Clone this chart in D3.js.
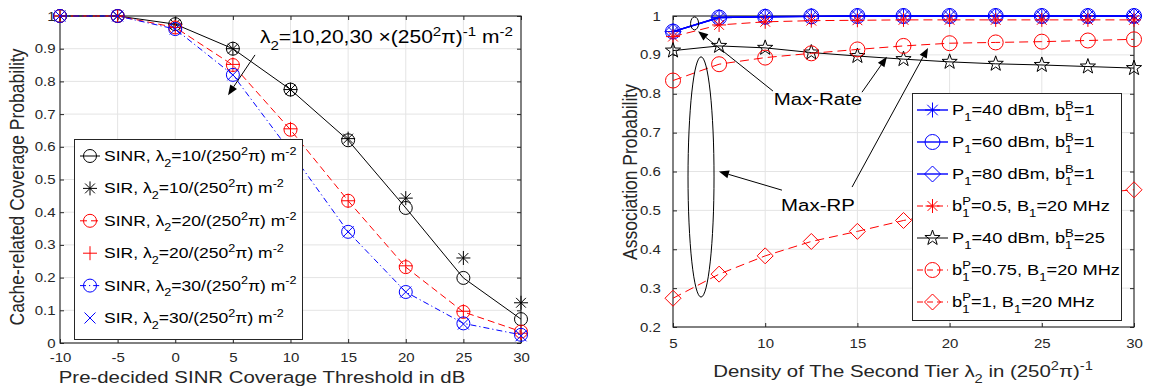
<!DOCTYPE html>
<html><head><meta charset="utf-8">
<script src="https://cdn.jsdelivr.net/npm/d3@7"></script>
<style>body{margin:0;background:#fff} svg{display:block}</style>
</head><body><svg id="c" width="1150" height="387"></svg>
<script>
// ---------------- data: left chart ----------------
const thresholds = [-10, -5, 0, 5, 10, 15, 20, 25, 30];
const sinr10 = [1, 1, 0.975, 0.9, 0.775, 0.62, 0.413, 0.199, 0.073];
const sir10  = [1, 1, 0.975, 0.9, 0.775, 0.625, 0.443, 0.26, 0.123];
const sinr20 = [1, 1, 0.965, 0.85, 0.652, 0.435, 0.232, 0.095, 0.035];
const sir20  = [1, 1, 0.965, 0.852, 0.655, 0.435, 0.236, 0.097, 0.03];
const sinr30 = [1, 1, 0.96, 0.82, 0.585, 0.34, 0.156, 0.06, 0.025];
const sir30  = [1, 1, 0.96, 0.82, 0.585, 0.34, 0.156, 0.058, 0.022];
const leftXTicks = [-10, -5, 0, 5, 10, 15, 20, 25, 30];
const leftXTickLabels = ["-10", "-5", "0", "5", "10", "15", "20", "25", "30"];
const leftYTicks = [0, 0.1, 0.2, 0.3, 0.4, 0.5, 0.6, 0.7, 0.8, 0.9, 1];
const leftYTickLabels = ["0", "0.1", "0.2", "0.3", "0.4", "0.5", "0.6", "0.7", "0.8", "0.9", "1"];
const leftLegend = [
  "SINR, λ_{2}=10/(250^{2}π) m^{-2}", "SIR, λ_{2}=10/(250^{2}π) m^{-2}",
  "SINR, λ_{2}=20/(250^{2}π) m^{-2}", "SIR, λ_{2}=20/(250^{2}π) m^{-2}",
  "SINR, λ_{2}=30/(250^{2}π) m^{-2}", "SIR, λ_{2}=30/(250^{2}π) m^{-2}"];

// ---------------- data: right chart ----------------
const densities = [5, 7.5, 10, 12.5, 15, 17.5, 20, 22.5, 25, 27.5, 30];
const p40b1  = [0.96, 0.996, 0.998, 0.999, 1, 1, 1, 1, 1, 1, 1];
const p60b1  = [0.96, 0.996, 0.998, 0.999, 1, 1, 1, 1, 1, 1, 1];
const p80b1  = [0.96, 0.996, 0.998, 0.999, 1, 1, 1, 1, 1, 1, 1];
const bp05   = [0.947, 0.977, 0.985, 0.988, 0.989, 0.99, 0.99, 0.99, 0.99, 0.99, 0.99];
const p40b25 = [0.911, 0.923, 0.918, 0.906, 0.897, 0.889, 0.882, 0.877, 0.874, 0.87, 0.866];
const bp075  = [0.834, 0.876, 0.893, 0.904, 0.914, 0.923, 0.93, 0.932, 0.934, 0.937, 0.94];
const bp1    = [0.274, 0.336, 0.383, 0.42, 0.446, 0.474, 0.495, 0.515, 0.531, 0.543, 0.553];
const rightXTicks = [5, 10, 15, 20, 25, 30];
const rightXTickLabels = ["5", "10", "15", "20", "25", "30"];
const rightYTicks = [0.2, 0.3, 0.4, 0.5, 0.6, 0.7, 0.8, 0.9, 1];
const rightYTickLabels = ["0.2", "0.3", "0.4", "0.5", "0.6", "0.7", "0.8", "0.9", "1"];
const rightLegend = [
  "P_{1}=40 dBm, b^{B}_{1}=1", "P_{1}=60 dBm, b^{B}_{1}=1", "P_{1}=80 dBm, b^{B}_{1}=1",
  "b^{P}_{1}=0.5, B_{1}=20 MHz", "P_{1}=40 dBm, b^{B}_{1}=25",
  "b^{P}_{1}=0.75, B_{1}=20 MHz", "b^{P}_{1}=1, B_{1}=20 MHz"];

// ---------------- helpers ----------------
const FONT = '"Liberation Sans", Arial, Helvetica, sans-serif';
const SX = 1.2;
const AX = '#262626';
const svg = d3.select('#c');
const mctx = document.createElement('canvas').getContext('2d');
function tw(s, size) { mctx.font = size + 'px "Liberation Sans"'; return mctx.measureText(s).width; }

function richText(parent, x, y, str, size, opts = {}) {
  const g = parent.append('g').attr('transform',
    `translate(${x},${y}) scale(${SX},1)` + (opts.rotate ? ` rotate(${opts.rotate})` : ''));
  const t = g.append('text').attr('font-family', FONT).attr('font-size', size)
    .attr('fill', opts.fill || '#000').attr('text-anchor', opts.anchor || 'start');
  const re = /\^\{([^}]*)\}_\{([^}]*)\}|\^\{([^}]*)\}|_\{([^}]*)\}|([^_^]+)/g;
  const ss = size * 0.72, up = size * 0.42, down = size * 0.38;
  let off = 0, pdx = 0, m;
  while ((m = re.exec(str))) {
    if (m[1] !== undefined) {
      const w1 = tw(m[1], ss), w2 = tw(m[2], ss);
      t.append('tspan').attr('font-size', ss).attr('dx', pdx).attr('dy', -up - off).text(m[1]);
      t.append('tspan').attr('font-size', ss).attr('dx', -w1).attr('dy', up + down).text(m[2]);
      off = down; pdx = Math.max(0, w1 - w2);
    } else if (m[3] !== undefined) {
      t.append('tspan').attr('font-size', ss).attr('dx', pdx).attr('dy', -up - off).text(m[3]);
      off = -up; pdx = 0;
    } else if (m[4] !== undefined) {
      t.append('tspan').attr('font-size', ss).attr('dx', pdx).attr('dy', down - off).text(m[4]);
      off = down; pdx = 0;
    } else {
      t.append('tspan').attr('dx', pdx).attr('dy', -off).text(m[5]);
      off = 0; pdx = 0;
    }
  }
  return g;
}

const markerPath = {
  circle: r => `M${r},0A${r},${r} 0 1,1 ${-r},0A${r},${r} 0 1,1 ${r},0Z`,
  plus: r => `M${-r},0H${r}M0,${-r}V${r}`,
  x: r => `M${-r},${-r}L${r},${r}M${-r},${r}L${r},${-r}`,
  asterisk: r => { const d = r * 0.7; return `M${-r},0H${r}M0,${-r}V${r}M${-d},${-d}L${d},${d}M${-d},${d}L${d},${-d}`; },
  diamond: r => `M0,${-r}L${r},0L0,${r}L${-r},0Z`,
  pentagram: r => {
    const pts = [];
    for (let i = 0; i < 10; i++) {
      const a = -Math.PI / 2 + i * Math.PI / 5, rr = i % 2 ? r * 0.4 : r;
      pts.push([rr * Math.cos(a), rr * Math.sin(a)]);
    }
    return 'M' + pts.map(p => p.join(',')).join('L') + 'Z';
  }
};

function drawMarkers(g, xs, ys, xScale, yScale, type, r, color) {
  g.selectAll(null).data(xs.map((x, i) => [x, ys[i]])).enter().append('path')
    .attr('transform', d => `translate(${xScale(d[0])},${yScale(d[1])})`)
    .attr('d', markerPath[type](r)).attr('fill', 'none').attr('stroke', color).attr('stroke-width', 1);
}
function drawLine(g, xs, ys, xScale, yScale, color, dash, width) {
  g.append('path').datum(xs.map((x, i) => [x, ys[i]]))
    .attr('d', d3.line().x(d => xScale(d[0])).y(d => yScale(d[1])))
    .attr('fill', 'none').attr('stroke', color).attr('stroke-width', width || 1)
    .attr('stroke-dasharray', dash || null);
}
function arrow(g, x1, y1, x2, y2) {
  const ang = Math.atan2(y2 - y1, x2 - x1), L = 10, W = 4;
  const bx = x2 - L * Math.cos(ang), by = y2 - L * Math.sin(ang);
  g.append('line').attr('x1', x1).attr('y1', y1).attr('x2', bx).attr('y2', by)
    .attr('stroke', '#000').attr('stroke-width', 1);
  const px = -Math.sin(ang) * W, py = Math.cos(ang) * W;
  g.append('path').attr('d', `M${x2},${y2}L${bx + px},${by + py}L${bx - px},${by - py}Z`).attr('fill', '#000');
}

function frame(xScale, yScale, xT, xTL, yT, yTL, xPad, yPad) {
  const [x0, x1] = xScale.range(), [y0, y1] = yScale.range();
  const g = svg.append('g');
  g.selectAll(null).data(xT).enter().append('line')
    .attr('x1', d => xScale(d)).attr('x2', d => xScale(d)).attr('y1', y0).attr('y2', y1)
    .attr('stroke', '#e4e4e4').attr('stroke-width', 1);
  g.selectAll(null).data(yT).enter().append('line')
    .attr('y1', d => yScale(d)).attr('y2', d => yScale(d)).attr('x1', x0).attr('x2', x1)
    .attr('stroke', '#e4e4e4').attr('stroke-width', 1);
  const styleAxis = (sel) => {
    sel.select('.domain').remove();
    sel.selectAll('.tick line').attr('stroke', AX);
    sel.selectAll('.tick text').attr('font-family', FONT).attr('font-size', 12.5).attr('fill', AX)
      .attr('transform', `scale(${SX},1)`);
  };
  g.append('g').attr('transform', `translate(0,${y0})`)
    .call(d3.axisBottom(xScale).tickValues(xT).tickSizeInner(-4).tickSizeOuter(0).tickPadding(xPad)
      .tickFormat((d, i) => xTL[i])).call(styleAxis);
  g.append('g').attr('transform', `translate(0,${y1})`)
    .call(d3.axisTop(xScale).tickValues(xT).tickSizeInner(-4).tickSizeOuter(0).tickFormat('')).call(styleAxis);
  g.append('g').attr('transform', `translate(${x0},0)`)
    .call(d3.axisLeft(yScale).tickValues(yT).tickSizeInner(-4).tickSizeOuter(0).tickPadding(yPad)
      .tickFormat((d, i) => yTL[i])).call(styleAxis);
  g.append('g').attr('transform', `translate(${x1},0)`)
    .call(d3.axisRight(yScale).tickValues(yT).tickSizeInner(-4).tickSizeOuter(0).tickFormat('')).call(styleAxis);
  g.append('rect').attr('x', x0).attr('y', y1).attr('width', x1 - x0).attr('height', y0 - y1)
    .attr('fill', 'none').attr('stroke', AX).attr('stroke-width', 1.1);
  return g;
}

// ---------------- left chart ----------------
const xL = d3.scaleLinear().domain([-10, 30]).range([60, 521]);
const yL = d3.scaleLinear().domain([0, 1]).range([343, 16]);
frame(xL, yL, leftXTicks, leftXTickLabels, leftYTicks, leftYTickLabels, 9.7, 3.7);
const gl = svg.append('g');
const leftSeries = [
  { v: sinr10, c: '#000', dash: null, m: 'circle', r: 6.5, line: true },
  { v: sir10, c: '#000', m: 'asterisk', r: 7, line: false },
  { v: sinr20, c: '#ff0000', dash: '7,4', m: 'circle', r: 6.5, line: true },
  { v: sir20, c: '#ff0000', m: 'plus', r: 7, line: false },
  { v: sinr30, c: '#0000ff', dash: '6,3,1.2,3', m: 'circle', r: 6.5, line: true },
  { v: sir30, c: '#0000ff', m: 'x', r: 5.5, line: false }];
leftSeries.forEach(s => {
  if (s.line) drawLine(gl, thresholds, s.v, xL, yL, s.c, s.dash, 1);
  drawMarkers(gl, thresholds, s.v, xL, yL, s.m, s.r, s.c);
});
richText(gl, xL(7.35), yL(0.916), "λ_{2}=10,20,30 ×(250^{2}π)^{-1} m^{-2}", 17.5);
arrow(gl, xL(6.92), yL(0.881), xL(4.58), yL(0.758));
const lg = svg.append('g');
lg.append('rect').attr('x', 74.5).attr('y', 139.5).attr('width', 228).attr('height', 200)
  .attr('fill', '#fff').attr('stroke', AX).attr('stroke-width', 1);
leftSeries.forEach((s, i) => {
  const cy = 156 + i * 32.4;
  if (s.line) lg.append('line').attr('x1', 80).attr('x2', 100).attr('y1', cy).attr('y2', cy)
    .attr('stroke', s.c).attr('stroke-width', 1).attr('stroke-dasharray', s.dash);
  lg.append('path').attr('transform', `translate(90,${cy})`).attr('d', markerPath[s.m](s.r))
    .attr('fill', 'none').attr('stroke', s.c);
  richText(lg, 104, cy + 5, leftLegend[i], 14.6);
});
richText(svg, 24, 187, "Cache-related Coverage Probability", 17.5, { anchor: 'middle', rotate: -90, fill: AX });
richText(svg, 262, 383, "Pre-decided SINR Coverage Threshold in dB", 17, { anchor: 'middle', fill: AX });

// ---------------- right chart ----------------
const xR = d3.scaleLinear().domain([5, 30]).range([673, 1134]);
const yR = d3.scaleLinear().domain([0.2, 1]).range([327, 16]);
frame(xR, yR, rightXTicks, rightXTickLabels, rightYTicks, rightYTickLabels, 12.5, 10.2);
const gr = svg.append('g');
const rightSeries = [
  { v: p40b1, c: '#0000ff', dash: null, w: 1.4, m: 'asterisk', r: 7.5 },
  { v: p60b1, c: '#0000ff', dash: null, w: 1.4, m: 'circle', r: 7.5 },
  { v: p80b1, c: '#0000ff', dash: null, w: 1.4, m: 'diamond', r: 8 },
  { v: bp05, c: '#ff0000', dash: '9,5', w: 1, m: 'asterisk', r: 7 },
  { v: p40b25, c: '#000', dash: null, w: 1, m: 'pentagram', r: 8 },
  { v: bp075, c: '#ff0000', dash: '9,5', w: 1, m: 'circle', r: 7.5 },
  { v: bp1, c: '#ff0000', dash: '9,5', w: 1, m: 'diamond', r: 8 }];
rightSeries.forEach(s => {
  drawLine(gr, densities, s.v, xR, yR, s.c, s.dash, s.w);
  drawMarkers(gr, densities, s.v, xR, yR, s.m, s.r, s.c);
});
const ellipse = (cx, cy, rx, ry) => gr.append('ellipse')
  .attr('cx', xR(cx)).attr('cy', yR(cy)).attr('rx', xR(cx + rx) - xR(cx)).attr('ry', yR(cy) - yR(cy + ry))
  .attr('fill', 'none').attr('stroke', '#000').attr('stroke-width', 1);
ellipse(6.17, 0.981, 0.217, 0.0167);
ellipse(6.52, 0.586, 0.705, 0.309);
richText(gr, xR(12.86), yR(0.786) + 6, "Max-Rate", 17, { anchor: 'middle' });
richText(gr, xR(12.86), yR(0.514) + 6, "Max-RP", 17, { anchor: 'middle' });
arrow(gr, xR(10.42), yR(0.807), xR(6.36), yR(0.961));
arrow(gr, xR(15.25), yR(0.804), xR(16.6), yR(0.895));
arrow(gr, xR(10.91), yR(0.552), xR(7.49), yR(0.6));
arrow(gr, xR(14.71), yR(0.56), xR(18.83), yR(0.918));
const rg = svg.append('g');
rg.append('rect').attr('x', 912.5).attr('y', 93.5).attr('width', 209).attr('height', 227)
  .attr('fill', '#fff').attr('stroke', AX).attr('stroke-width', 1);
rightSeries.forEach((s, i) => {
  const cy = 110 + i * 32;
  rg.append('line').attr('x1', 917).attr('x2', 948).attr('y1', cy).attr('y2', cy)
    .attr('stroke', s.c).attr('stroke-width', s.w).attr('stroke-dasharray', s.dash ? '6,4' : null);
  rg.append('path').attr('transform', `translate(932.5,${cy})`).attr('d', markerPath[s.m](s.r))
    .attr('fill', 'none').attr('stroke', s.c);
  richText(rg, 952, cy + 5, rightLegend[i], 15.2);
});
richText(svg, 637, 172, "Association Probability", 17.5, { anchor: 'middle', rotate: -90, fill: AX });
richText(svg, 903, 377, "Density of The Second Tier λ_{2} in (250^{2}π)^{-1}", 17, { anchor: 'middle', fill: AX });
</script></body></html>
